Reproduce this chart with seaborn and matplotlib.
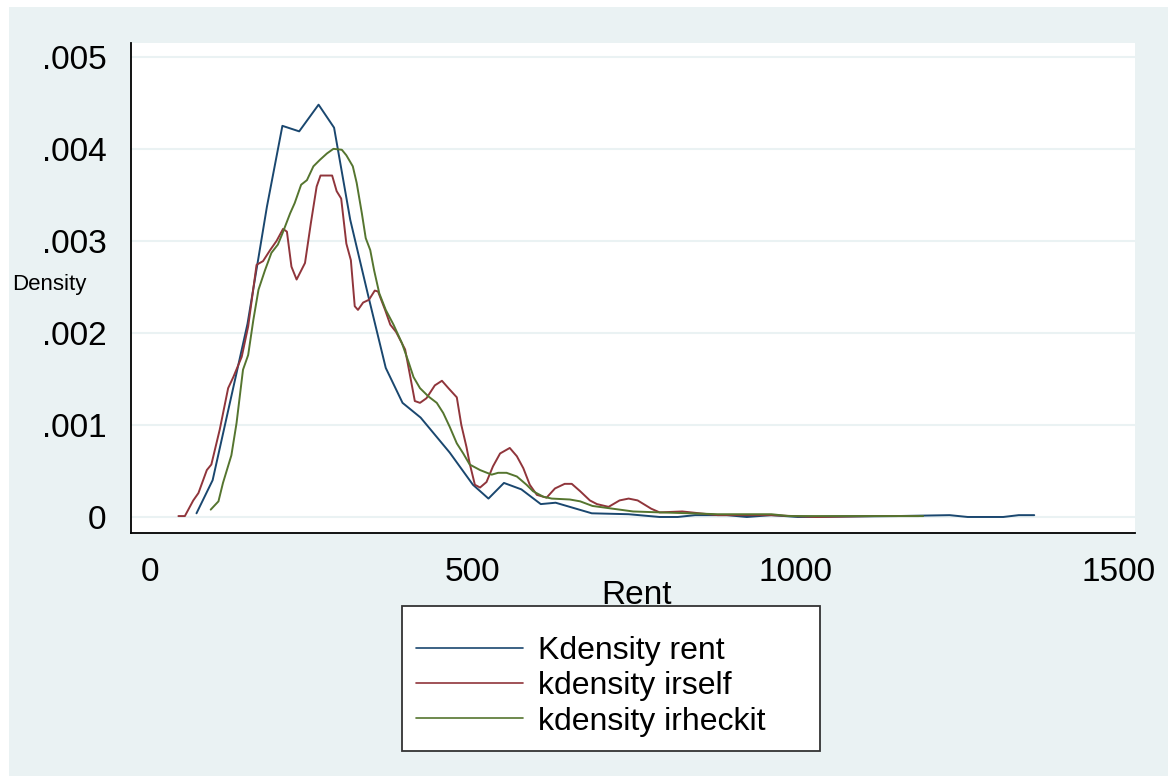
import pandas as pd
import seaborn as sns
import matplotlib.pyplot as plt
from matplotlib.patches import Rectangle

## values
rent_x = [72, 97, 151, 181, 205, 231, 261, 285, 310, 338, 365, 391, 419, 464, 500, 524, 548,
          575, 605, 628, 684, 741, 789, 817, 844, 893, 924, 962, 1003, 1155, 1238, 1266, 1321,
          1345, 1369]
rent_y = [0.00004, 0.0004, 0.0021, 0.00337, 0.00425, 0.00419, 0.00448, 0.00423, 0.00323,
          0.0024, 0.00162, 0.00124, 0.00108, 0.0007, 0.00035, 0.0002, 0.00037, 0.0003, 0.00014,
          0.000155, 0.00004, 0.00003, 0.0, 0.0, 0.00002, 0.00002, 0.0, 0.00002, 0.0, 0.00001,
          0.00002, 0.0, 0.0, 0.00002, 0.00002]

irself_x = [44, 54, 67, 75, 88, 95, 108, 121, 129, 142, 152, 165, 175, 186, 196, 206, 212, 219,
            227, 240, 249, 258, 264, 273, 282, 289, 296, 304, 311, 317, 322, 330, 339, 348, 353,
            364, 372, 381, 395, 402, 410, 418, 428, 441, 452, 462, 475, 482, 490, 495, 503, 511,
            521, 531, 542, 557, 568, 578, 588, 599, 614, 627, 642, 653, 666, 681, 692, 710, 727,
            741, 755, 776, 789, 824, 851, 879, 961, 1031, 1121, 1190]
irself_y = [0.00001, 0.00001, 0.00018, 0.00026, 0.00051, 0.00057, 0.00095, 0.0014, 0.00152,
            0.00174, 0.00207, 0.00274, 0.00278, 0.0029, 0.003, 0.00313, 0.0031, 0.00272, 0.00258,
            0.00276, 0.00319, 0.00359, 0.00371, 0.00371, 0.00371, 0.00354, 0.00346, 0.00297,
            0.00279, 0.00229, 0.00225, 0.00233, 0.00236, 0.00246, 0.00245, 0.00225, 0.00209,
            0.00201, 0.00182, 0.00156, 0.00126, 0.00124, 0.00129, 0.00143, 0.00148, 0.0014,
            0.0013, 0.001, 0.00076, 0.00058, 0.00035, 0.00032, 0.00038, 0.00055, 0.00069,
            0.00075, 0.00066, 0.00053, 0.00035, 0.00024, 0.00021, 0.00031, 0.00036, 0.00036,
            0.00028, 0.00018, 0.00014, 0.00011, 0.00018, 0.0002, 0.00018, 0.00009, 0.00005,
            0.00006, 0.00004, 0.00002, 0.00002, 0.0, 0.00001, 0.00001]

irheckit_x = [94, 106, 113, 126, 134, 144, 152, 160, 168, 178, 188, 198, 205, 217, 224, 234, 243,
              253, 263, 274, 284, 297, 304, 314, 320, 328, 334, 341, 347, 355, 365, 377, 390,
              400, 408, 418, 431, 444, 454, 464, 475, 485, 495, 511, 529, 539, 552, 568, 583,
              593, 609, 622, 650, 666, 685, 706, 748, 789, 837, 879, 962, 989, 1087, 1197]
irheckit_y = [0.00008, 0.00017, 0.00037, 0.00067, 0.00102, 0.0016, 0.00176, 0.00214, 0.00247,
              0.00268, 0.00287, 0.00296, 0.00308, 0.0033, 0.00341, 0.00361, 0.00366, 0.00381,
              0.00388, 0.00395, 0.004, 0.00399, 0.00393, 0.00381, 0.00363, 0.0033, 0.00303,
              0.0029, 0.00268, 0.00243, 0.00225, 0.00209, 0.00189, 0.00169, 0.00152, 0.0014,
              0.00131, 0.00124, 0.00113, 0.00098, 0.0008, 0.00069, 0.00057, 0.00051, 0.00046,
              0.00048, 0.00048, 0.00044, 0.00035, 0.00028, 0.00022, 0.0002, 0.00019, 0.00017,
              0.00012, 0.0001, 0.00006, 0.00005, 0.00004, 0.00003, 0.00003, 0.00001, 0.00001,
              0.00001]

series_names = ['Kdensity rent', 'kdensity irself', 'kdensity irheckit']
series_colors = ['#1a476f', '#90353b', '#55752f']
x_ticks = [0, 500, 1000, 1500]
x_ticklabels = ['0', '500', '1000', '1500']
y_ticks = [0, 0.001, 0.002, 0.003, 0.004, 0.005]
y_ticklabels = ['0', '.001', '.002', '.003', '.004', '.005']

rows = []
for name, xs, ys in zip(series_names, (rent_x, irself_x, irheckit_x), (rent_y, irself_y, irheckit_y)):
    for xv, yv in zip(xs, ys):
        rows.append({'Rent': xv, 'Density': yv, 'series': name})
df = pd.DataFrame(rows)

sns.set_theme(style='white')
plt.rcParams['font.family'] = ['Liberation Sans', 'DejaVu Sans']
plt.rcParams['text.color'] = 'black'
plt.rcParams['axes.labelcolor'] = 'black'

W, H = 1168, 776
fig = plt.figure(figsize=(W / 100, H / 100), dpi=100, facecolor='white')
fig.patches.append(Rectangle((9 / W, 0), 1 - 9 / W, 1 - 7 / H, transform=fig.transFigure,
                             facecolor='#eaf2f3', edgecolor='none', zorder=-10))
ax = fig.add_axes([131 / W, 1 - 533 / H, (1135 - 131) / W, (533 - 43) / H])
ax.set_facecolor('white')

sns.lineplot(data=df, x='Rent', y='Density', hue='series', hue_order=series_names,
             palette=series_colors, sort=False, estimator=None, lw=1.4, ax=ax, legend=False)

ax.set_xlim(-29.4, 1525)
ax.set_ylim(-0.000174, 0.00515)
ax.set_xticks(x_ticks)
ax.set_xticklabels(x_ticklabels)
ax.set_yticks(y_ticks)
ax.set_yticklabels(y_ticklabels)
ax.tick_params(axis='both', direction='out', length=7.5, width=1.1, color='black',
               labelsize=24, labelcolor='black', pad=10)
ax.grid(axis='y', color='#eaf2f3', lw=1.5)
ax.grid(axis='x', visible=False)
for s in ('top', 'right'):
    ax.spines[s].set_visible(False)
for s in ('left', 'bottom'):
    ax.spines[s].set_color('black')
    ax.spines[s].set_linewidth(1.3)

ax.set_xlabel('Rent', fontsize=24)
ax.xaxis.label.set_va('center')
ax.xaxis.set_label_coords(0.503, -0.127)
ax.set_ylabel('Density', fontsize=16, rotation=0)
ax.yaxis.label.set_va('center')
ax.yaxis.label.set_ha('center')
ax.yaxis.set_label_coords(-0.081, 0.508)

handles = [plt.Line2D([], [], color=c, lw=1.2) for c in series_colors]
leg = fig.legend(handles, series_names, loc='upper left',
                 bbox_to_anchor=(402 / W, 1 - 746 / H, (820 - 402) / W, (746 - 606) / H),
                 mode='expand', fontsize=23, handlelength=3.35, handletextpad=0.45,
                 borderpad=0.45, labelspacing=0.17, borderaxespad=0, frameon=True, fancybox=False,
                 title=' ', title_fontsize=8)
leg.get_frame().set_edgecolor('#333333')
leg.get_frame().set_linewidth(1.3)
leg.get_frame().set_facecolor('white')
leg.get_frame().set_alpha(1)

fig.savefig('out.png', dpi=100, facecolor=fig.get_facecolor())
